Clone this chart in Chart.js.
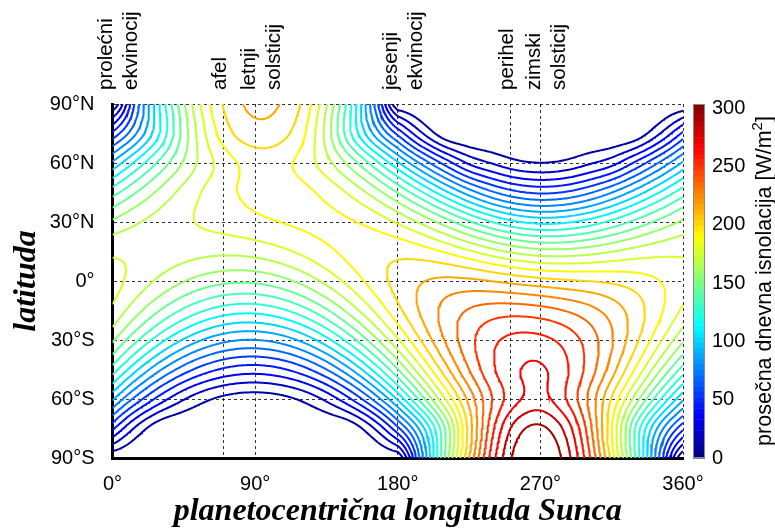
<!DOCTYPE html>
<html>
<head>
<meta charset="utf-8">
<script src="https://cdn.jsdelivr.net/npm/chart.js@4.4.0/dist/chart.umd.min.js"></script>
<style>
  html, body { margin: 0; padding: 0; background: #fff; }
  #wrap { width: 775px; height: 530px; }
</style>
</head>
<body>
<div id="wrap"><canvas id="chart" width="775" height="530"></canvas></div>
<script>
// planetocentric solar longitude (deg) of the grid columns
const LS_GRID = [0, 15, 30, 45, 60, 75, 90, 105, 120, 135, 150, 165, 180,
  195, 210, 225, 240, 255, 270, 285, 300, 315, 330, 345, 360];
// latitude (deg) of the grid rows
const LAT_GRID = [90, 75, 60, 45, 30, 15, 0, -15, -30, -45, -60, -75, -90];

// mean daily insolation [W/m2], one row per latitude, columns follow LS_GRID
const Q_90N = [0, 61.0, 113.7, 156.6, 188.8, 208.5, 216.5, 214.0, 200.6, 170.5, 126.0, 68.3, 0,
  0, 0, 0, 0, 0, 0, 0, 0, 0, 0, 0, 0];
const Q_75N = [47.6, 78.8, 113.2, 151.2, 182.3, 201.4, 209.1, 206.7, 193.8, 164.7, 125.4, 88.1, 53.3,
  24.1, 4.3, 0, 0, 0, 0, 0, 0, 0, 3.9, 21.7, 47.6];
const Q_60N = [92.0, 115.7, 138.4, 158.9, 176.2, 189.0, 195.7, 195.1, 187.3, 173.0, 153.3, 129.4, 103.0,
  76.4, 51.9, 31.9, 21.5, 14.0, 11.5, 13.7, 20.6, 29.5, 47.2, 68.6, 92.0];
const Q_45N = [130.1, 146.3, 160.6, 172.6, 182.4, 189.8, 194.5, 196.0, 193.9, 188.0, 177.9, 163.6, 145.7,
  125.3, 104.3, 84.7, 69.0, 58.6, 54.6, 57.1, 65.4, 78.5, 94.9, 112.6, 130.1];
const Q_30N = [159.4, 167.4, 173.5, 178.2, 181.9, 185.2, 188.3, 191.2, 193.3, 194.0, 192.2, 187.2, 178.5,
  166.3, 151.8, 136.7, 123.3, 113.6, 109.2, 110.6, 116.9, 126.7, 138.1, 149.4, 159.4];
const Q_15N = [177.7, 177.3, 175.6, 173.4, 171.6, 171.3, 173.0, 176.9, 182.4, 188.7, 194.5, 198.3, 199.1,
  196.3, 190.1, 181.7, 172.9, 165.7, 161.6, 161.3, 164.0, 168.5, 173.0, 176.3, 177.7];
const Q_EQ  = [184.0, 175.3, 166.2, 157.9, 151.6, 148.2, 148.5, 153.0, 161.1, 172.0, 184.2, 196.1, 206.1,
  213.0, 216.3, 216.1, 213.4, 209.8, 206.6, 204.2, 202.4, 200.3, 196.8, 191.4, 184.0];
const Q_15S = [177.7, 161.5, 146.1, 132.8, 122.8, 117.0, 116.2, 120.8, 130.5, 144.6, 161.9, 180.6, 199.1,
  215.4, 228.4, 237.2, 241.7, 242.6, 240.6, 236.1, 229.3, 219.9, 207.9, 193.6, 177.7];
const Q_30S = [159.4, 136.9, 116.7, 99.9, 87.5, 80.2, 78.6, 82.8, 93.0, 108.8, 129.3, 153.1, 178.5,
  203.4, 225.8, 243.8, 256.2, 262.2, 261.8, 255.2, 243.0, 226.0, 205.4, 182.7, 159.4];
const Q_45S = [130.1, 103.2, 80.1, 61.9, 49.0, 41.4, 39.3, 42.7, 52.0, 67.4, 88.8, 115.4, 145.7,
  177.8, 208.9, 236.2, 257.0, 268.8, 271.5, 261.6, 243.7, 219.0, 190.1, 159.7, 130.1];
const Q_60S = [92.0, 62.9, 39.9, 23.3, 12.7, 7.2, 5.6, 7.5, 13.5, 25.4, 44.2, 70.3, 103.0,
  140.6, 180.0, 217.4, 248.2, 267.7, 274.0, 260.5, 235.4, 201.5, 163.8, 126.3, 92.0];
const Q_75S = [47.6, 19.8, 3.3, 0, 0, 0, 0, 0, 0, 0, 3.7, 22.2, 53.3,
  95.7, 147.2, 206.9, 256.8, 287.1, 294.8, 279.4, 243.6, 191.8, 134.0, 86.0, 47.6];
const Q_90S = [0, 0, 0, 0, 0, 0, 0, 0, 0, 0, 0, 0, 0,
  74.2, 148.0, 214.2, 265.9, 297.3, 305.2, 289.3, 252.2, 198.6, 134.6, 66.6, 0];

// contour levels and colour range
const LEVELS = [11.25, 22.5, 33.75, 45, 56.25, 67.5, 78.75, 90, 101.25, 112.5, 123.75, 135, 146.25,
  157.5, 168.75, 180, 191.25, 202.5, 213.75, 225, 236.25, 247.5, 258.75, 270, 281.25, 292.5];
const C_MAX = 303.75;

// axes
const X_TICKS = [0, 90, 180, 270, 360];
const Y_TICKS = [90, 60, 30, 0, -30, -60, -90];
const Y_LABELS = ['90°N', '60°N', '30°N', '0°', '30°S', '60°S', '90°S'];
const CB_TICKS = [0, 50, 100, 150, 200, 250, 300];

// orbital events
const EVENT_LS = [0, 70, 90, 180, 251, 270];
const EVENT_LABELS = [['prolećni', 'ekvinocij'], ['afel'], ['letnji', 'solsticij'],
  ['jesenji', 'ekvinocij'], ['perihel'], ['zimski', 'solsticij']];

const SANS = "'Liberation Sans', Arial, sans-serif";
const SERIF = "'Liberation Serif', 'Times New Roman', serif";

// ---- cubic resampling of the grid (for smooth contour lines) ----
function endSlope(h0, h1, s0, s1) {
  let d = ((2 * h0 + h1) * s0 - h0 * s1) / (h0 + h1);
  if (Math.sign(d) !== Math.sign(s0)) d = 0;
  else if (Math.sign(s0) !== Math.sign(s1) && Math.abs(d) > Math.abs(3 * s0)) d = 3 * s0;
  return d;
}

function slopes(xs, ys, periodic) {
  const n = xs.length, d = new Array(n);
  for (let k = 1; k < n - 1; k++) d[k] = (ys[k + 1] - ys[k - 1]) / (xs[k + 1] - xs[k - 1]);
  if (periodic) {
    d[0] = d[n - 1] = (ys[1] - ys[n - 2]) / (xs[1] - xs[0] + xs[n - 1] - xs[n - 2]);
  } else {
    const s = k => (ys[k + 1] - ys[k]) / (xs[k + 1] - xs[k]);
    d[0] = endSlope(xs[1] - xs[0], xs[2] - xs[1], s(0), s(1));
    d[n - 1] = endSlope(xs[n - 1] - xs[n - 2], xs[n - 2] - xs[n - 3], s(n - 2), s(n - 3));
  }
  return d;
}

function hermite(xs, ys, d, x) {
  let k = 0;
  while (k < xs.length - 2 && x > xs[k + 1]) k++;
  const h = xs[k + 1] - xs[k], t = (x - xs[k]) / h, t2 = t * t, t3 = t2 * t;
  return (2 * t3 - 3 * t2 + 1) * ys[k] + (t3 - 2 * t2 + t) * h * d[k] +
    (-2 * t3 + 3 * t2) * ys[k + 1] + (t3 - t2) * h * d[k + 1];
}

const rows = [Q_90N, Q_75N, Q_60N, Q_45N, Q_30N, Q_15N, Q_EQ, Q_15S, Q_30S, Q_45S, Q_60S, Q_75S, Q_90S];
const fineLs = [];
for (let x = 0; x <= 360; x += 1) fineLs.push(x);
const fineLat = [];
for (let y = 90; y >= -90; y -= 1) fineLat.push(y);
const colat = LAT_GRID.map(v => 90 - v);

// polar night stays at zero
const rowsFine = rows.map(r => {
  const d = slopes(LS_GRID, r, true);
  return fineLs.map(x => Math.max(0, hermite(LS_GRID, r, d, x)));
});
const field = fineLat.map(() => new Float64Array(fineLs.length));
for (let i = 0; i < fineLs.length; i++) {
  const col = rowsFine.map(r => r[i]);
  const d = slopes(colat, col, false);
  for (let j = 0; j < fineLat.length; j++) field[j][i] = Math.max(0, hermite(colat, col, d, 90 - fineLat[j]));
}

// ---- marching squares ----
function contour(level) {
  const nx = fineLs.length, ny = fineLat.length;
  const adj = new Map();
  const hId = (j, i) => (j * nx + i) * 2;
  const vId = (j, i) => (j * nx + i) * 2 + 1;
  const link = (a, b) => {
    if (!adj.has(a)) adj.set(a, []);
    if (!adj.has(b)) adj.set(b, []);
    adj.get(a).push(b);
    adj.get(b).push(a);
  };
  for (let j = 0; j < ny - 1; j++) {
    for (let i = 0; i < nx - 1; i++) {
      const a = field[j][i], b = field[j][i + 1], c = field[j + 1][i + 1], d = field[j + 1][i];
      const code = (a > level ? 8 : 0) | (b > level ? 4 : 0) | (c > level ? 2 : 0) | (d > level ? 1 : 0);
      if (code === 0 || code === 15) continue;
      const T = hId(j, i), B = hId(j + 1, i), L = vId(j, i), R = vId(j, i + 1);
      const mid = (a + b + c + d) / 4 > level;
      switch (code) {
        case 1: case 14: link(L, B); break;
        case 2: case 13: link(B, R); break;
        case 3: case 12: link(L, R); break;
        case 4: case 11: link(T, R); break;
        case 6: case 9: link(T, B); break;
        case 7: case 8: link(T, L); break;
        case 5: if (mid) { link(T, L); link(R, B); } else { link(T, R); link(L, B); } break;
        case 10: if (mid) { link(T, R); link(L, B); } else { link(T, L); link(R, B); } break;
      }
    }
  }
  const point = id => {
    const cell = id >> 1, j = Math.floor(cell / nx), i = cell % nx;
    if ((id & 1) === 0) {
      const v0 = field[j][i], v1 = field[j][i + 1], t = (level - v0) / (v1 - v0);
      return { x: fineLs[i] + t * (fineLs[i + 1] - fineLs[i]), y: fineLat[j] };
    }
    const v0 = field[j][i], v1 = field[j + 1][i], t = (level - v0) / (v1 - v0);
    return { x: fineLs[i], y: fineLat[j] + t * (fineLat[j + 1] - fineLat[j]) };
  };
  const seen = new Set();
  const walk = start => {
    const path = [start];
    seen.add(start);
    let cur = start;
    for (;;) {
      const nb = adj.get(cur);
      const next = nb.find(n => !seen.has(n));
      if (next === undefined) {
        if (path.length > 2 && nb.includes(start)) path.push(start);
        break;
      }
      seen.add(next);
      path.push(next);
      cur = next;
    }
    return path.map(point);
  };
  const lines = [];
  for (const [id, nb] of adj) if (nb.length === 1 && !seen.has(id)) lines.push(walk(id));
  for (const id of adj.keys()) if (!seen.has(id)) lines.push(walk(id));
  return lines;
}

function jet(v) {
  const q = Math.max(0, Math.min(63, Math.floor(v * 64)));
  const x = (q + 0.5) / 64;
  const f = t => Math.round(255 * Math.max(0, Math.min(1, t)));
  return `rgb(${f(1.5 - Math.abs(4 * x - 3))},${f(1.5 - Math.abs(4 * x - 2))},${f(1.5 - Math.abs(4 * x - 1))})`;
}

const datasets = [];
LEVELS.forEach(level => {
  const color = jet(level / C_MAX);
  contour(level).forEach(line => {
    datasets.push({
      data: line,
      showLine: true,
      borderColor: color,
      borderWidth: 2,
      pointRadius: 0,
      fill: false
    });
  });
});

// ---- colour bar, event labels ----
const decor = {
  id: 'decor',
  afterDraw(chart) {
    const { ctx, chartArea: area, scales: { x } } = chart;
    ctx.save();
    // event labels above the plot
    ctx.fillStyle = '#000';
    ctx.font = `20.5px ${SANS}`;
    ctx.textAlign = 'left';
    ctx.textBaseline = 'middle';
    EVENT_LS.forEach((ls, k) => {
      const px = x.getPixelForValue(ls);
      const lines = EVENT_LABELS[k];
      const offs = lines.length === 1 ? [-3] : [-6, 19];
      lines.forEach((txt, n) => {
        ctx.save();
        ctx.translate(px + offs[n], 90);
        ctx.rotate(-Math.PI / 2);
        ctx.fillText(txt, 0, 0);
        ctx.restore();
      });
    });

    // colour bar
    const cbL = 693, cbW = 12, top = area.top, bot = area.bottom;
    const n = 64, hStep = (bot - top) / n;
    for (let k = 0; k < n; k++) {
      ctx.fillStyle = jet((k + 0.5) / n);
      ctx.fillRect(cbL, bot - (k + 1) * hStep, cbW, hStep + 0.5);
    }
    ctx.strokeStyle = '#888';
    ctx.lineWidth = 1;
    ctx.strokeRect(cbL + 0.5, top + 0.5, cbW - 1, bot - top - 1);
    ctx.fillStyle = '#000';
    ctx.font = `20px ${SANS}`;
    ctx.textAlign = 'left';
    ctx.textBaseline = 'middle';
    CB_TICKS.forEach(v => {
      ctx.fillText(String(v), 712, bot - v / C_MAX * (bot - top));
    });

    // colour bar title, rotated, with superscript
    const main = 'prosečna dnevna isnolacija [W/m', sup = '2', tail = ']';
    ctx.font = `21.5px ${SANS}`;
    const wMain = ctx.measureText(main).width, wTail = ctx.measureText(tail).width;
    ctx.font = `15px ${SANS}`;
    const wSup = ctx.measureText(sup).width;
    const total = wMain + wSup + wTail;
    ctx.translate(771, (top + bot) / 2);
    ctx.rotate(-Math.PI / 2);
    ctx.textBaseline = 'alphabetic';
    ctx.font = `21.5px ${SANS}`;
    ctx.fillText(main, -total / 2, 0);
    ctx.font = `15px ${SANS}`;
    ctx.fillText(sup, -total / 2 + wMain, -9);
    ctx.font = `21.5px ${SANS}`;
    ctx.fillText(tail, -total / 2 + wMain + wSup, 0);
    ctx.restore();
  }
};

new Chart(document.getElementById('chart'), {
  type: 'scatter',
  data: { datasets },
  options: {
    responsive: false,
    animation: false,
    events: [],
    layout: { padding: { left: 0, right: 92, top: 104, bottom: 0 } },
    plugins: { legend: { display: false }, tooltip: { enabled: false } },
    scales: {
      x: {
        type: 'linear',
        min: 0,
        max: 360,
        afterBuildTicks: s => { s.ticks = [...X_TICKS, 70, 251].sort((a, b) => a - b).map(v => ({ value: v })); },
        afterFit: s => { s.height = 72; },
        ticks: {
          autoSkip: false,
          maxRotation: 0,
          padding: 14,
          color: '#000',
          font: { family: SANS, size: 20 },
          callback: v => (X_TICKS.includes(v) ? v + '°' : '')
        },
        grid: { color: 'rgba(0,0,0,0.8)', lineWidth: 1, drawTicks: false },
        border: { display: true, color: '#000', width: 3, dash: [3, 3] },
        title: {
          display: true,
          text: 'planetocentrična longituda Sunca',
          color: '#000',
          font: { family: SERIF, size: 32, weight: 'bold', style: 'italic', lineHeight: 1 },
          padding: { top: 0, bottom: 2 }
        }
      },
      y: {
        type: 'linear',
        min: -90,
        max: 90,
        afterBuildTicks: s => { s.ticks = Y_TICKS.map(v => ({ value: v })); },
        afterFit: s => { s.width = 112.5; },
        ticks: {
          autoSkip: false,
          padding: 18,
          color: '#000',
          font: { family: SANS, size: 20 },
          callback: v => Y_LABELS[Y_TICKS.indexOf(v)]
        },
        grid: { color: 'rgba(0,0,0,0.8)', lineWidth: 1, drawTicks: false },
        border: { display: true, color: '#000', width: 3, dash: [3, 3] },
        title: {
          display: true,
          text: 'latituda',
          color: '#000',
          font: { family: SERIF, size: 32, weight: 'bold', style: 'italic', lineHeight: 1 },
          padding: { top: 11, bottom: 0 }
        }
      }
    }
  },
  plugins: [decor]
});
</script>
</body>
</html>
